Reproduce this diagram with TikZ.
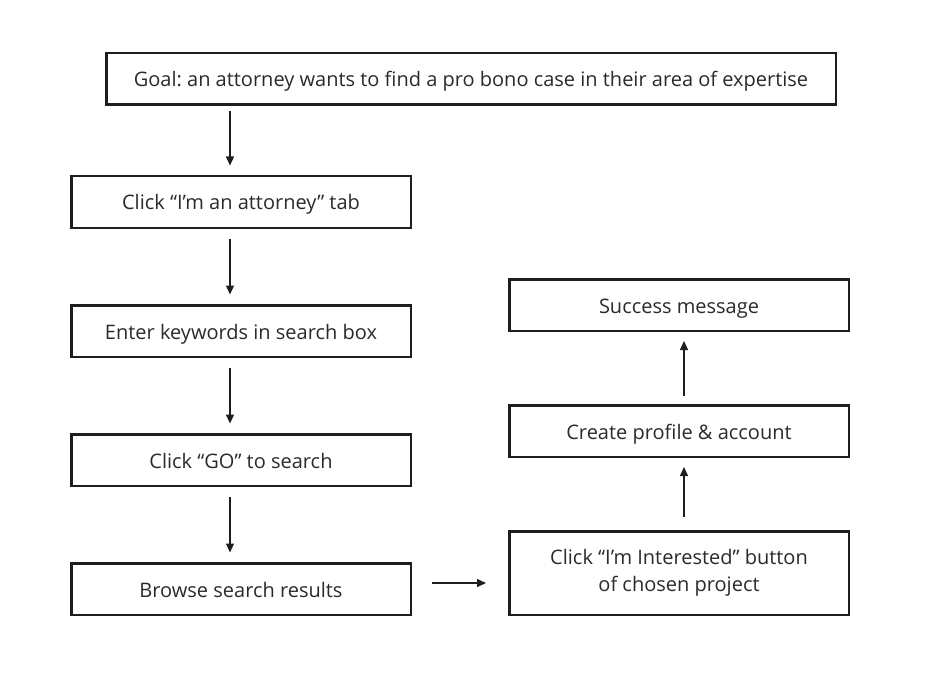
\documentclass[tikz,border=0pt]{standalone}
\usepackage{fontspec}
\setmainfont{Open Sans}
\usetikzlibrary{arrows.meta}
\definecolor{ink}{HTML}{1E1E1E}
\definecolor{txt}{HTML}{2A2A2A}
\frenchspacing
\tikzset{
  box/.style={draw=ink, line width=2.5pt, minimum width=339.5pt, minimum height=51.5pt, inner sep=0pt, text=txt, font=\fontsize{20}{27}\selectfont, align=center},
  onebox/.style={box, text height=17pt, text depth=1pt},
  arr/.style={draw=ink, line width=1.4pt, -{Triangle[length=9pt,width=8pt]}}
}
\begin{document}
\begin{tikzpicture}[x=1pt,y=-1pt]
\useasboundingbox (0,0) rectangle (931,695);
\node[onebox, minimum width=729.5pt] (goal) at (471,79) {Goal: an attorney wants to find a pro bono case in their area of expertise};
\node[onebox] (att) at (241,202) {Click “I’m an attorney” tab};
\node[onebox] (key) at (241,331) {Enter keywords in search box};
\node[onebox] (go) at (241,460) {Click “GO” to search};
\node[onebox] (browse) at (241,589) {Browse search results};
\node[box, minimum height=83.5pt] (int) at (679,573) {Click “I’m Interested” button\\of chosen project};
\node[onebox] (create) at (679,431) {Create profile \& account};
\node[onebox] (succ) at (679,305) {Success message};
\coordinate (c1) at (230,0);
\coordinate (c2) at (684,0);
\draw[arr, shorten <=5pt, shorten >=9.5pt] (goal.south -| c1) -- (att.north -| c1);
\draw[arr, shorten <=9.5pt, shorten >=9.5pt] (att.south -| c1) -- (key.north -| c1);
\draw[arr, shorten <=9.5pt, shorten >=9.5pt] (key.south -| c1) -- (go.north -| c1);
\draw[arr, shorten <=9.5pt, shorten >=9.5pt] (go.south -| c1) -- (browse.north -| c1);
\draw[arr, shorten <=20pt, shorten >=22pt] (browse.east |- 0,583) -- (int.west |- 0,583);
\draw[arr, shorten <=13pt, shorten >=9pt] (int.north -| c2) -- (create.south -| c2);
\draw[arr, shorten <=8pt, shorten >=9pt] (create.north -| c2) -- (succ.south -| c2);
\end{tikzpicture}
\end{document}
